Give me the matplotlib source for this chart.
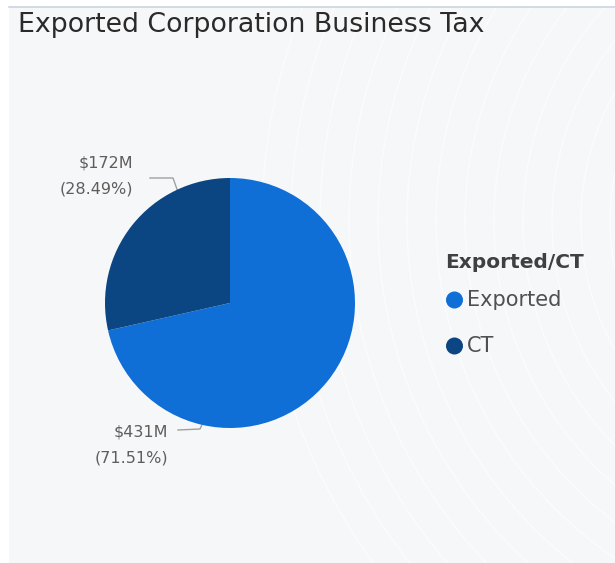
import matplotlib
matplotlib.use("Agg")
import matplotlib.pyplot as plt
import numpy as np
from matplotlib.patches import Rectangle, Circle

categories = ["Exported", "CT"]
values = [431, 172]          # $M
percents = [71.51, 28.49]
value_labels = ["$431M", "$172M"]
colors = ["#0f6fd6", "#0b4682"]
title = "Exported Corporation Business Tax"
legend_title = "Exported/CT"

W, H = 615, 563
fig = plt.figure(figsize=(W / 100, H / 100), dpi=100)
fig.patch.set_facecolor("white")

# background panel with decorative arcs
bg = fig.add_axes([0, 0, 1, 1])
bg.set_xlim(0, W)
bg.set_ylim(H, 0)
bg.axis("off")
panel = Rectangle((9, 6), W - 9, H - 6, facecolor="#f6f7f9", edgecolor="none")
bg.add_patch(panel)
bg.plot([9, W], [6.5, 6.5], color="#cdd5e0", lw=1.2)
for r in np.arange(175, 600, 29):
    c = Circle((843, 221), r, facecolor="none", edgecolor="white", lw=1.0, alpha=0.6)
    bg.add_patch(c)
    c.set_clip_path(panel)

bg.text(18, 25, title, fontsize=19.3, color="#2b2a29", va="center", ha="left")

# pie
cx, cy, R = 230, 303, 125
ax = fig.add_axes([(cx - R) / W, 1 - (cy + R) / H, 2 * R / W, 2 * R / H])
wedges, _ = ax.pie(values, colors=colors, startangle=90, counterclock=False,
                   wedgeprops=dict(linewidth=0))
ax.set_xlim(-1, 1)
ax.set_ylim(-1, 1)
ax.set_aspect("auto")
ax.axis("off")

label_color = "#605e5c"
# label layout: edge angle, elbow, end of leader, text right edge, first-line centre
layouts = {
    "Exported": dict(ang=257, elbow=(200, 429), end=(178, 430), tx=168, ty=432),
    "CT": dict(ang=115, elbow=(173, 178), end=(150, 178), tx=133, ty=163),
}
for cat, vl, pc in zip(categories, value_labels, percents):
    L = layouts[cat]
    a = np.deg2rad(L["ang"])
    px, py = cx + R * np.cos(a), cy - R * np.sin(a)
    bg.plot([px, L["elbow"][0], L["end"][0]], [py, L["elbow"][1], L["end"][1]],
            color="#a0a0a0", lw=1)
    bg.text(L["tx"], L["ty"], vl, fontsize=11.5, color=label_color, ha="right", va="center")
    bg.text(L["tx"], L["ty"] + 26, f"({pc:.2f}%)", fontsize=11.5, color=label_color,
            ha="right", va="center")

# legend
bg.text(445, 263, legend_title, fontsize=14.5, fontweight="bold", color="#404040",
        ha="left", va="center")
for i, (cat, col) in enumerate(zip(categories, colors)):
    y = 300 + i * 46
    bg.add_patch(Circle((454.5, y), 8.5, facecolor=col, edgecolor="none"))
    bg.text(467, y, cat, fontsize=15, color="#505050", ha="left", va="center")

fig.savefig("out.png", dpi=100, facecolor=fig.get_facecolor())
